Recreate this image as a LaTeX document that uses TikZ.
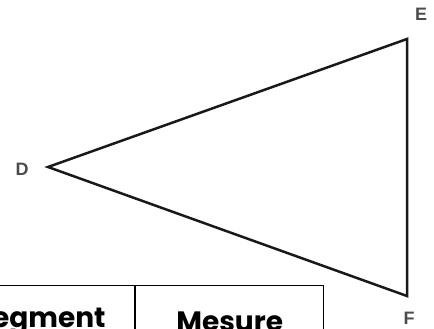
\documentclass[tikz,border=0pt]{standalone}
\usepackage{fontspec}
\setmainfont{Liberation Sans}
\newfontfamily\gothic{Poppins}
\usetikzlibrary{positioning}

\begin{document}
\begin{tikzpicture}[x=1pt, y=-1pt,
    vlabel/.style={inner sep=0pt, font=\bfseries\fontsize{18}{18}\selectfont, text=black!70},
    cell/.style={draw, rectangle, line width=1.4pt, inner sep=0pt, minimum height=72pt,
        font=\gothic\bfseries\fontsize{28}{28}\selectfont}]
    \useasboundingbox (0,0) rectangle (434,329);
    \clip (0,0) rectangle (434,329);

    % Triangle
    \coordinate (D) at (48,167);
    \coordinate (E) at (407,39);
    \coordinate (F) at (407,296);
    \draw[line width=2.5pt, black!90] (D) -- (E) -- (F) -- cycle;

    % Vertex names
    \node[vlabel] (labelD) at (22,169) {D};
    \node[vlabel] (labelE) at (421,14) {E};
    \node[vlabel] (labelF) at (409,318) {F};

    % Table header
    \node[cell, minimum width=188pt, anchor=north east] (segment) at (135,285) {Segment};
    \node[cell, minimum width=188pt, anchor=north west] (mesure) at (segment.north east) {Mesure};
\end{tikzpicture}
\end{document}
